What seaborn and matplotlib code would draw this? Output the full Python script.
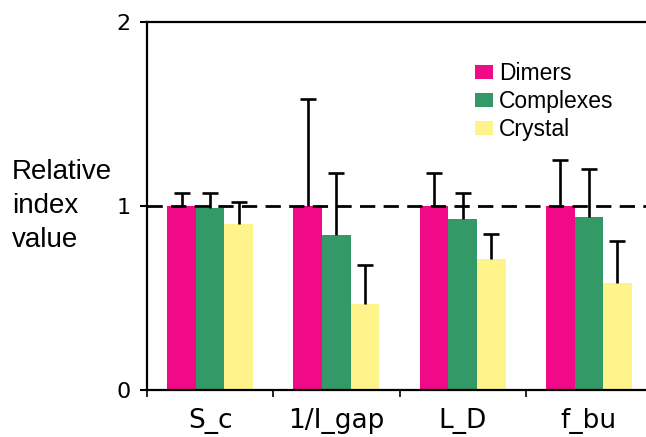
import matplotlib
matplotlib.use("Agg")
import matplotlib.pyplot as plt
import seaborn as sns
import pandas as pd
import numpy as np

# values
features = ["S_c", "1/I_gap", "L_D", "f_bu"]
groups = ["Dimers", "Complexes", "Crystal"]
dimers = [1.00, 1.00, 1.00, 1.00]
complexes = [0.99, 0.84, 0.93, 0.94]
crystal = [0.90, 0.47, 0.71, 0.58]
# upper error bar lengths
dimers_err = [0.07, 0.58, 0.18, 0.25]
complexes_err = [0.08, 0.34, 0.14, 0.26]
crystal_err = [0.12, 0.21, 0.14, 0.23]
colors = ["#F00A88", "#339966", "#FFF48C"]

rows = []
for g, vals, errs in zip(groups, [dimers, complexes, crystal], [dimers_err, complexes_err, crystal_err]):
    for f, v, e in zip(features, vals, errs):
        rows.append({"feature": f, "group": g, "value": v, "err": e})
df = pd.DataFrame(rows)

sns.set_style("white")
plt.rcParams['font.family'] = ['DejaVu Sans']
plt.rcParams['text.color'] = 'black'
plt.rcParams['xtick.color'] = 'black'
plt.rcParams['ytick.color'] = 'black'

fig = plt.figure(figsize=(6.46, 4.37), dpi=100)
ax = fig.add_axes([147/646, 47/437, 505/646, 368/437])

sns.barplot(data=df, x="feature", y="value", hue="group", order=features, hue_order=groups,
            palette=colors, width=0.68, saturation=1, errorbar=None, ax=ax, zorder=2,
            linewidth=0, edgecolor="none")

# upper-only error bars at bar centres
for container, g in zip(ax.containers, groups):
    sub = df[df["group"] == g].set_index("feature").loc[features]
    xs = np.array([p.get_x() + p.get_width() / 2 for p in container.patches])
    ys = np.array([p.get_height() for p in container.patches])
    tops = ys + sub["err"].values
    ax.vlines(xs, ys, tops, color="black", lw=1.9, zorder=3)
    ax.plot(xs, tops, ls="none", marker="_", markersize=12, markeredgewidth=1.9,
            color="black", zorder=3)

ax.axhline(1, color="black", lw=2.0, ls=(0, (5.5, 3)), zorder=4)

ax.set_ylim(0, 2)
ax.set_xlim(-0.5, 3.5)
ax.set_yticks([0, 1, 2])
ax.set_yticklabels(["0", "1", "2"])
ax.tick_params(axis="y", direction="out", length=5, width=1.5, pad=7, labelsize=16, left=True)
ax.set_xticks(range(len(features)))
ax.set_xticklabels(features)
ax.tick_params(axis="x", which="major", length=0, pad=13, labelsize=19)
ax.set_xticks(np.arange(-0.5, 3.6, 1), minor=True)
ax.tick_params(axis="x", which="minor", direction="out", length=5, width=1.2, bottom=True)

for s in ["left", "bottom", "top", "right"]:
    ax.spines[s].set_color("black")
    ax.spines[s].set_linewidth(1.6)

ax.set_xlabel("")
ax.set_ylabel("Relative\nindex\nvalue", rotation=0, ha="left", va="center",
              fontsize=20, family=["Liberation Sans"], linespacing=1.4, color="black")
ax.yaxis.set_label_coords(-0.267, 0.5)

handles, labels = ax.get_legend_handles_labels()
ax.legend(handles, labels, loc="upper left", bbox_to_anchor=(475/646, 1 - 62/437),
          bbox_transform=fig.transFigure, frameon=False, borderpad=0, borderaxespad=0,
          handlelength=0.8, handleheight=0.6, handletextpad=0.25, labelspacing=0.22,
          prop={"family": "Liberation Sans", "size": 16.5})

fig.savefig("out.png", dpi=100)
